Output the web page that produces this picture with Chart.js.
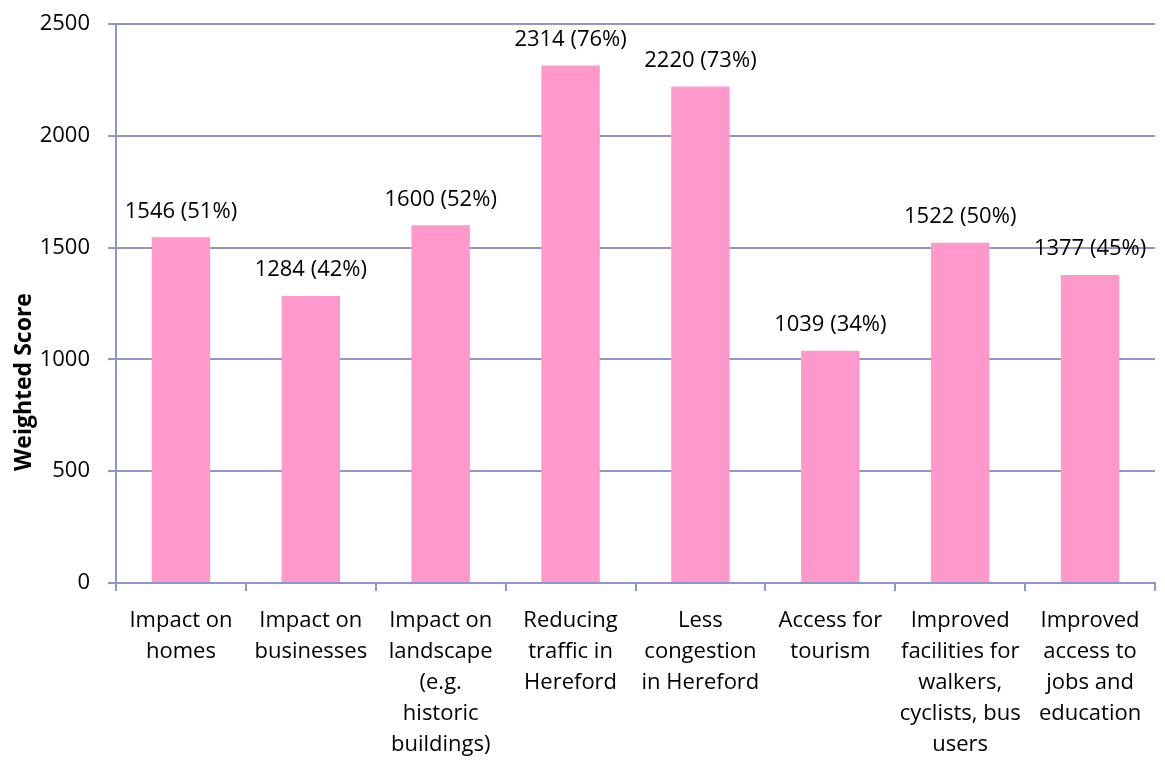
<!DOCTYPE html>
<html>
<head>
<meta charset="utf-8">
<script src="https://cdn.jsdelivr.net/npm/chart.js@4/dist/chart.umd.min.js"></script>
<style>
  html, body { margin: 0; padding: 0; background: #fff; }
  #wrap { width: 1165px; height: 760px; }
</style>
</head>
<body>
<div id="wrap"><canvas id="scoreChart" width="1165" height="760"></canvas></div>
<script>
// data
const categories = [
  ["Impact on", "homes"],
  ["Impact on", "businesses"],
  ["Impact on", "landscape", "(e.g.", "historic", "buildings)"],
  ["Reducing", "traffic in", "Hereford"],
  ["Less", "congestion", "in Hereford"],
  ["Access for", "tourism"],
  ["Improved", "facilities for", "walkers,", "cyclists, bus", "users"],
  ["Improved", "access to", "jobs and", "education"]
];
const scores = [1546, 1284, 1600, 2314, 2220, 1039, 1522, 1377];
const percents = [51, 42, 52, 76, 73, 34, 50, 45];
const yTicks = [0, 500, 1000, 1500, 2000, 2500];
const yTitle = "Weighted Score";

const FONT = "'Open Sans', sans-serif";
const GRID = "#8c98cc";

// labels above bars, e.g. "1546 (51%)"
const barLabels = {
  id: "barLabels",
  afterDatasetsDraw(chart) {
    const ctx = chart.ctx;
    const meta = chart.getDatasetMeta(0);
    ctx.save();
    ctx.font = "22px " + FONT;
    ctx.fillStyle = "#000";
    ctx.textAlign = "center";
    ctx.textBaseline = "middle";
    meta.data.forEach((bar, i) => {
      ctx.fillText(scores[i] + " (" + percents[i] + "%)", bar.x, bar.y - 26);
    });
    ctx.restore();
  }
};

// axis title centred on the whole chart height, like the original
const axisTitle = {
  id: "axisTitle",
  afterDraw(chart) {
    const ctx = chart.ctx;
    ctx.save();
    ctx.translate(24, chart.height / 2 + 2);
    ctx.rotate(-Math.PI / 2);
    ctx.font = "bold 23px " + FONT;
    ctx.fillStyle = "#000";
    ctx.textAlign = "center";
    ctx.textBaseline = "middle";
    ctx.fillText(yTitle, 0, 0);
    ctx.restore();
  }
};

new Chart(document.getElementById("scoreChart"), {
  type: "bar",
  data: {
    labels: categories,
    datasets: [{
      data: scores,
      backgroundColor: "#ff99cc",
      barPercentage: 0.45,
      categoryPercentage: 1
    }]
  },
  options: {
    responsive: false,
    animation: false,
    layout: { padding: { top: 24, right: 10, left: 0, bottom: 0 } },
    plugins: {
      legend: { display: false },
      tooltip: { enabled: false }
    },
    scales: {
      x: {
        grid: {
          offset: true,
          drawOnChartArea: false,
          drawTicks: true,
          tickLength: 8,
          color: GRID,
          lineWidth: 2
        },
        border: { color: GRID, width: 2 },
        ticks: {
          color: "#000",
          font: { family: FONT, size: 22, lineHeight: 1.41 },
          padding: 14,
          maxRotation: 0,
          autoSkip: false
        },
        afterFit(scale) { scale.height = 177; }
      },
      y: {
        min: 0,
        max: 2500,
        afterBuildTicks(scale) { scale.ticks = yTicks.map(v => ({ value: v })); },
        grid: {
          color: GRID,
          lineWidth: 2,
          tickLength: 8
        },
        border: { color: GRID, width: 2 },
        ticks: {
          color: "#000",
          font: { family: FONT, size: 22 },
          padding: 18,
          callback: v => String(v)
        },
        afterFit(scale) {
          scale.width = 116;
          scale.paddingTop = 0;
          scale.paddingBottom = 0;
        }
      }
    }
  },
  plugins: [barLabels, axisTitle]
});
</script>
</body>
</html>
